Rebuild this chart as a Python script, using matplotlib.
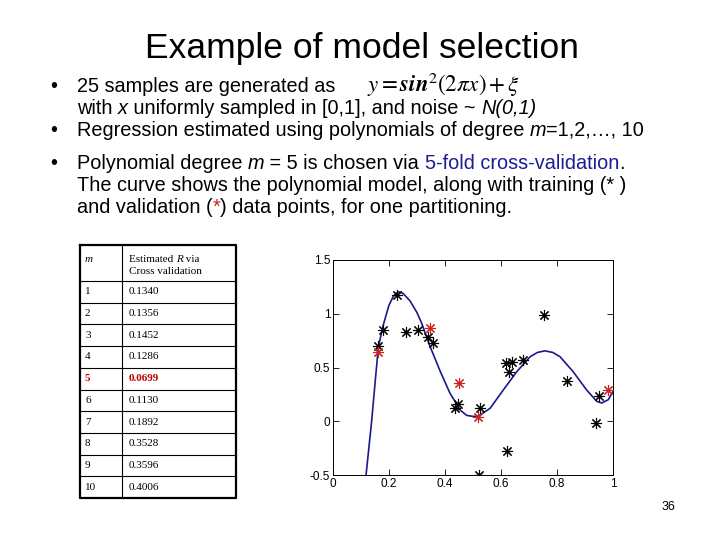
import matplotlib
matplotlib.use('Agg')
import matplotlib.pyplot as plt

plt.rcParams['font.family'] = ['Liberation Sans', 'DejaVu Sans']

# table data
degrees = ['1', '2', '3', '4', '5', '6', '7', '8', '9', '10']
cv_error = ['0.1340', '0.1356', '0.1452', '0.1286', '0.0699',
            '0.1130', '0.1892', '0.3528', '0.3596', '0.4006']
best_row = 4

# training points (black)
train_x = [0.162, 0.177, 0.228, 0.260, 0.302, 0.341, 0.356, 0.436, 0.448, 0.525,
           0.618, 0.638, 0.630, 0.677, 0.620, 0.523, 0.754, 0.837, 0.951, 0.939]
train_y = [0.70, 0.85, 1.17, 0.83, 0.85, 0.78, 0.73, 0.12, 0.16, 0.12,
           0.545, 0.555, 0.46, 0.57, -0.28, -0.50, 0.99, 0.375, 0.235, -0.02]

# validation points (red)
val_x = [0.162, 0.346, 0.450, 0.517, 0.981]
val_y = [0.647, 0.865, 0.353, 0.043, 0.29]

# degree-5 model curve
curve_x = [0.118, 0.138, 0.150, 0.162, 0.180, 0.200, 0.215, 0.233, 0.250, 0.275,
           0.300, 0.317, 0.346, 0.382, 0.418, 0.454, 0.477, 0.500, 0.519, 0.561,
           0.608, 0.656, 0.704, 0.730, 0.757, 0.785, 0.811, 0.858, 0.906, 0.942,
           0.960, 0.983, 1.000]
curve_y = [-0.50, 0.00, 0.35, 0.69, 0.90, 1.08, 1.16, 1.205, 1.19, 1.12,
           1.01, 0.91, 0.70, 0.47, 0.26, 0.105, 0.055, 0.045, 0.048, 0.12,
           0.29, 0.46, 0.60, 0.64, 0.655, 0.64, 0.60, 0.46, 0.29, 0.185,
           0.17, 0.20, 0.275]

x_ticks = [0, 0.2, 0.4, 0.6, 0.8, 1]
y_ticks = [-0.5, 0, 0.5, 1, 1.5]

fig = plt.figure(figsize=(7.2, 5.4), dpi=100)

# page layer in pixel coordinates
page = fig.add_axes([0, 0, 1, 1])
page.set_xlim(0, 720)
page.set_ylim(540, 0)
page.axis('off')
renderer = fig.canvas.get_renderer()

page.text(362, 45, 'Example of model selection', fontsize=25.5,
          ha='center', va='center_baseline')

fs = 14.3
N, I = 'normal', 'italic'


def put(parts, x, y, size=fs):
    # write pieces of one line after each other, y is the baseline
    for s, color, style in parts:
        t = page.text(x, y, s, fontsize=size, color=color, style=style, va='baseline')
        x += t.get_window_extent(renderer).width


bx, tx = 50, 77
blue = '#1c1c96'
red = '#cc2222'
k = 'black'
page.text(bx, 92, '\u2022', fontsize=fs, va='baseline')
put([('25 samples are generated as', k, N)], tx, 92)
f = page.text(367, 92, r'$y = \mathbfit{sin}^{2}\left(2\pi x\right) + \xi$', fontsize=16.5,
              math_fontfamily='stix', va='baseline')
try:
    f.get_window_extent(renderer)
except Exception:
    f.set_text(r'$y = \mathbf{sin}^{2}\left(2\pi x\right) + \xi$')
put([('with ', k, N), ('x', k, I), (' uniformly sampled in [0,1], and noise ~ ', k, N),
     ('N(0,1)', k, I)], tx, 114)
page.text(bx, 136, '\u2022', fontsize=fs, va='baseline')
put([('Regression estimated using polynomials of degree ', k, N), ('m', k, I),
     ('=1,2,\u2026, 10', k, N)], tx, 136)
page.text(bx, 169, '\u2022', fontsize=fs, va='baseline')
put([('Polynomial degree ', k, N), ('m', k, I), (' = 5 is chosen via ', k, N),
     ('5-fold cross-validation', blue, N), ('.', k, N)], tx, 169)
put([('The curve shows the polynomial model, along with training (* )', k, N)], tx, 191)
put([('and validation (', k, N), ('*', red, N),
     (') data points, for one partitioning.', k, N)], tx, 213)

page.text(668, 505, '36', fontsize=9, ha='center', va='center_baseline')

# table
tl, tr, tc = 80, 236, 122
top, head_bot = 245, 281
row_h = 21.7
bottom = head_bot + row_h * len(degrees)
for i in range(1, len(degrees)):
    yy = head_bot + row_h * i
    page.plot([tl, tr], [yy, yy], color='black', lw=0.8)
page.plot([tl, tr], [head_bot, head_bot], color='black', lw=0.8)
page.plot([tc, tc], [top, bottom], color='black', lw=0.8)
page.plot([tl, tr, tr, tl, tl], [top, top, bottom, bottom, top], color='black', lw=1.6)

serif = ['Liberation Serif', 'DejaVu Serif']
page.text(85, 258, 'm', fontsize=8, family=serif, style='italic', va='center_baseline')
page.text(129, 271, 'Cross validation', fontsize=8, family=serif, va='center_baseline')
hx = 129
for s, st in [('Estimated ', 'normal'), ('R', 'italic'), (' via', 'normal')]:
    t = page.text(hx, 258, s, fontsize=8, family=serif, style=st, va='center_baseline')
    hx += t.get_window_extent(renderer).width
for i, (d, e) in enumerate(zip(degrees, cv_error)):
    yy = head_bot + row_h * (i + 0.5)
    if i == best_row:
        kw = dict(color='#c00000', weight='bold')
    else:
        kw = dict(color='black')
    page.text(85, yy, d, fontsize=8, family=serif, va='center', **kw)
    page.text(129, yy, e, fontsize=8, family=serif, va='center', **kw)

# plot
ax = fig.add_axes([333 / 720, 65 / 540, 280 / 720, 215 / 540])
ax.plot(curve_x, curve_y, color='#1a1a8c', lw=1.2, zorder=2)
ax.plot(train_x, train_y, linestyle='none', marker=(8, 2, 0), ms=8, mew=0.8,
        color='black', zorder=3)
ax.plot(val_x, val_y, linestyle='none', marker=(8, 2, 0), ms=8, mew=0.8,
        color=red, zorder=3)
ax.set_xlim(0, 1)
ax.set_ylim(-0.5, 1.5)
ax.set_xticks(x_ticks)
ax.set_xticklabels(['0', '0.2', '0.4', '0.6', '0.8', '1'])
ax.set_yticks(y_ticks)
ax.set_yticklabels(['-0.5', '0', '0.5', '1', '1.5'])
ax.tick_params(direction='in', top=True, right=True, labelsize=8.5, length=4, width=0.6, pad=2)
for s in ax.spines.values():
    s.set_linewidth(0.7)

fig.savefig('out.png', dpi=100)
